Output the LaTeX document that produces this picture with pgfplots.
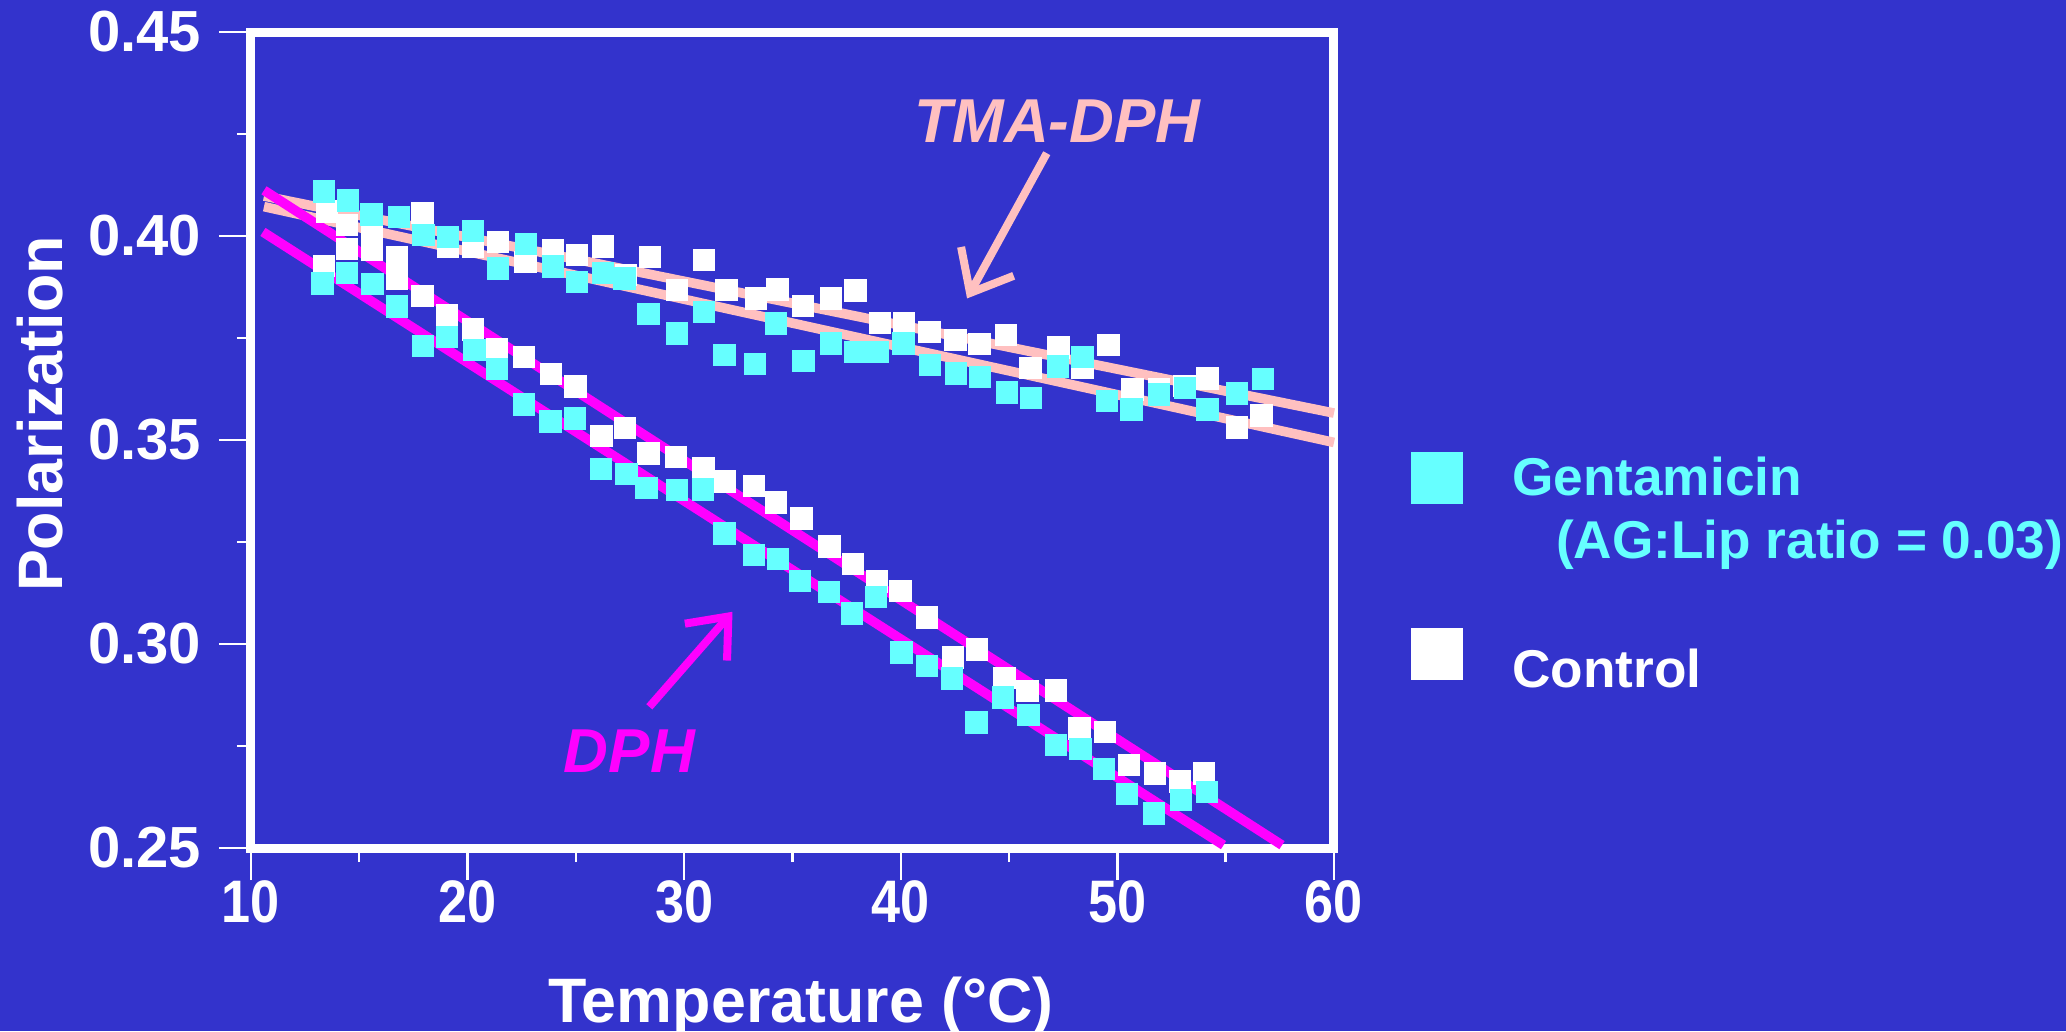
\documentclass[border=0pt]{standalone}
\usepackage{fontspec}
\setmainfont{Liberation Sans}
\usepackage{pgfplots}
\pgfplotsset{compat=1.18}
\usetikzlibrary{arrows.meta}
\definecolor{bgblue}{RGB}{51,51,204}
\definecolor{gcyan}{RGB}{102,255,255}
\definecolor{peach}{RGB}{255,192,192}
\definecolor{mag}{RGB}{255,0,255}
\begin{document}
\begin{tikzpicture}
\fill[bgblue] (-62.75pt,-45.75pt) rectangle (453.75pt,212pt);
\begin{axis}[
  scale only axis, width=270.75pt, height=204pt,
  xmin=10, xmax=60, ymin=0.25, ymax=0.45,
  clip=false,
  axis line style={white, line width=2.25pt, line cap=rect},
  tick align=outside, tick pos=left,
  xtick={10,20,30,40,50,60}, ytick={0.25,0.3,0.35,0.4,0.45},
  minor x tick num=1, minor y tick num=1,
  major tick length=8pt, minor tick length=3.5pt,
  every tick/.style={white, line width=0.6pt},
  /pgf/number format/assume math mode=true,
  yticklabel style={font=\fontsize{14.5}{14.5}\selectfont\bfseries, text=white, inner sep=0pt, xshift=-4.25pt,
    /pgf/number format/fixed, /pgf/number format/fixed zerofill, /pgf/number format/precision=2},
  xticklabel style={font=\fontsize{15}{15}\selectfont\bfseries, text=white, inner sep=0pt},
  xticklabel={\scalebox{0.87}[1]{\pgfmathprintnumber{\tick}}},
  legend style={at={(1.0715,0.4865)}, anchor=north west, draw=none, fill=none,
    inner sep=0pt, outer sep=0pt, text=white,
    font=\fontsize{13.3}{15.75}\selectfont\bfseries,
    cells={anchor=base west}, row sep={48pt,between origins}, column sep=12.3pt,
    nodes={inner sep=0pt}},
  legend image code/.code={\fill (0pt,-2pt) rectangle (12.5pt,10.5pt);},
  reverse legend,
]
% regression lines
\addplot[peach, line width=2.4pt, forget plot] coordinates {(10.6,0.4098) (60,0.3566)};
\addplot[peach, line width=2.4pt, forget plot] coordinates {(10.6,0.4072) (60,0.3494)};
\addplot[mag, line width=2.4pt, forget plot] coordinates {(10.6,0.4112) (57.6,0.2507)};
\addplot[mag, line width=2.4pt, forget plot] coordinates {(10.55,0.4010) (54.9,0.2507)};
% Control, TMA-DPH
\addplot[only marks, mark=square*, mark size=2.6pt, color=white, mark options={draw=none}, forget plot] coordinates {
(13.52,0.4060) (14.44,0.4027) (15.58,0.4000) (16.74,0.3947) (17.91,0.4056)
(19.09,0.3974) (20.25,0.3974) (21.39,0.3986) (22.67,0.3937) (23.93,0.3966)
(25.04,0.3953) (26.24,0.3974) (27.30,0.3905) (28.43,0.3949) (29.66,0.3868)
(30.92,0.3941) (31.96,0.3868) (33.31,0.3847) (34.30,0.3869) (35.48,0.3828)
(36.79,0.3847) (37.91,0.3866) (39.03,0.3787) (40.14,0.3787) (41.32,0.3765)
(42.52,0.3745) (43.63,0.3735) (44.87,0.3757) (45.98,0.3676) (47.28,0.3727)
(48.39,0.3676) (49.59,0.3733) (50.69,0.3624) (51.92,0.3625) (53.09,0.3633)
(54.16,0.3651) (55.53,0.3531) (56.65,0.3560)};
% Control, DPH
\addplot[only marks, mark=square*, mark size=2.6pt, color=white, mark options={draw=none},
  legend image code/.code={\fill (0pt,2pt) rectangle (12.5pt,14.5pt);}] coordinates {
(13.36,0.3927) (14.44,0.3968) (15.58,0.3967) (16.74,0.3896) (17.91,0.3853)
(19.06,0.3805) (20.25,0.3771) (21.37,0.3723) (22.60,0.3703) (23.86,0.3662)
(24.98,0.3631) (26.19,0.3510) (27.27,0.3529) (28.36,0.3467) (29.62,0.3459)
(30.89,0.3431) (31.89,0.3398) (33.23,0.3387) (34.23,0.3347) (35.41,0.3308)
(36.71,0.3239) (37.80,0.3196) (38.91,0.3153) (39.98,0.3130) (41.21,0.3065)
(42.40,0.2967) (43.52,0.2987) (44.79,0.2916) (45.85,0.2885) (47.17,0.2886)
(48.25,0.2793) (49.43,0.2785) (50.54,0.2703) (51.74,0.2683) (52.89,0.2663)
(53.99,0.2683)};
\addlegendentry{Control}
% Gentamicin, TMA-DPH
\addplot[only marks, mark=square*, mark size=2.6pt, color=gcyan, mark options={draw=none}, forget plot] coordinates {
(13.38,0.4109) (14.48,0.4087) (15.56,0.4053) (16.83,0.4047) (17.97,0.4002)
(19.09,0.3997) (20.25,0.4013) (21.41,0.3920) (22.70,0.3980) (23.93,0.3925)
(25.06,0.3887) (26.24,0.3909) (27.24,0.3896) (28.36,0.3809) (29.66,0.3761)
(30.92,0.3814) (31.87,0.3708) (33.27,0.3686) (34.25,0.3786) (35.50,0.3694)
(36.77,0.3737) (37.91,0.3716) (38.95,0.3716) (40.12,0.3737) (41.35,0.3684)
(42.55,0.3663) (43.67,0.3654) (44.90,0.3616) (46.00,0.3603) (47.25,0.3680)
(48.39,0.3703) (49.52,0.3595) (50.66,0.3575) (51.92,0.3612) (53.12,0.3627)
(54.16,0.3575) (55.51,0.3614) (56.71,0.3650)};
% Gentamicin, DPH
\addplot[only marks, mark=square*, mark size=2.6pt, color=gcyan, mark options={draw=none}] coordinates {
(13.30,0.3884) (14.44,0.3910) (15.61,0.3882) (16.74,0.3827) (17.94,0.3731)
(19.06,0.3753) (20.32,0.3721) (21.37,0.3674) (22.60,0.3587) (23.82,0.3545)
(24.96,0.3553) (26.16,0.3429) (27.34,0.3417) (28.26,0.3382) (29.66,0.3377)
(30.88,0.3379) (31.87,0.3271) (33.23,0.3218) (34.32,0.3208) (35.36,0.3155)
(36.68,0.3127) (37.76,0.3075) (38.85,0.3115) (40.03,0.2979) (41.21,0.2946)
(42.37,0.2915) (43.49,0.2808) (44.72,0.2869) (45.90,0.2826) (47.16,0.2753)
(48.30,0.2743) (49.39,0.2693) (50.43,0.2632) (51.70,0.2585) (52.94,0.2618)
(54.15,0.2637)};
\addlegendentry{\textcolor{gcyan}{\begin{tabular}[t]{@{}l@{}}Gentamicin\\\hspace*{11pt}(AG:Lip ratio = 0.03)\end{tabular}}}
% annotations
\draw[peach, line width=2pt, -{Straight Barb[length=9pt,width=15pt]}] (axis cs:46.74,0.4203) -- (axis cs:43.06,0.3847);
\draw[mag, line width=2pt, -{Straight Barb[length=8.5pt,width=14pt]}] (axis cs:28.39,0.2846) -- (axis cs:32.23,0.3079);
\node[anchor=base, text=peach, font=\fontsize{15.5}{15.5}\selectfont\bfseries\itshape] at (axis cs:47.24,0.4228) {TMA-DPH};
\node[anchor=base, text=mag, font=\fontsize{15.5}{15.5}\selectfont\bfseries\itshape] at (axis cs:27.47,0.2684) {DPH};
\end{axis}
\node[anchor=base, text=white, font=\fontsize{15.7}{15.7}\selectfont\bfseries] at (137.5pt,-43.5pt) {Temperature (°C)};
\node[anchor=base, rotate=90, text=white, font=\fontsize{15.7}{15.7}\selectfont\bfseries] at (-47pt,108.5pt) {Polarization};
\pgfresetboundingbox
\path (-62.75pt,-45.75pt) rectangle (453.75pt,212pt);
\end{tikzpicture}
\end{document}
